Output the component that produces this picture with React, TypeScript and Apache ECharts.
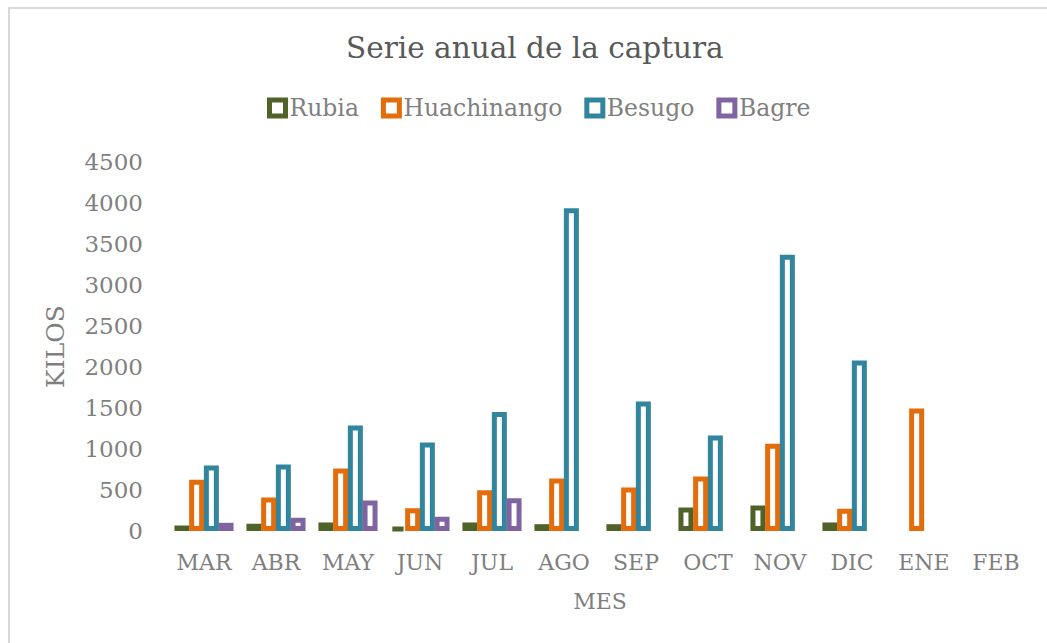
import React, { useEffect, useRef } from "react";
import * as echarts from "echarts";

const categories = ["MAR", "ABR", "MAY", "JUN", "JUL", "AGO", "SEP", "OCT", "NOV", "DIC", "ENE", "FEB"];
const rubia = [67, 88, 104, 46, 104, 83, 83, 287, 311, 104, null, null];
const huachinango = [625, 409, 763, 278, 498, 641, 531, 665, 1064, 271, 1495, null];
const besugo = [799, 811, 1287, 1080, 1450, 3935, 1580, 1165, 3370, 2080, null, null];
const bagre = [100, 161, 372, 173, 400, null, null, null, null, null, null, null];
const yTicks = [0, 500, 1000, 1500, 2000, 2500, 3000, 3500, 4000, 4500];

const seriesDefs = [
  { name: "Rubia", data: rubia, color: "#4f6228" },
  { name: "Huachinango", data: huachinango, color: "#e46c0a" },
  { name: "Besugo", data: besugo, color: "#31859c" },
  { name: "Bagre", data: bagre, color: "#8064a2" },
];

const FONT = "DejaVu Serif";

export default function App() {
  const ref = useRef<HTMLDivElement>(null);
  useEffect(() => {
    if (!ref.current) return;
    const chart = echarts.init(ref.current, null, { renderer: "svg" });
    chart.setOption({
      animation: false,
      backgroundColor: "#ffffff",
      textStyle: { fontFamily: FONT },
      graphic: [
        {
          type: "rect",
          shape: { x: 9, y: 8, width: 1200, height: 800 },
          style: { fill: "none", stroke: "#d9d9d9", lineWidth: 2 },
          silent: true,
        },
      ],
      title: {
        text: "Serie anual de la captura",
        left: 341,
        top: 28,
        textStyle: { fontFamily: FONT, fontSize: 29.5, fontWeight: "normal", color: "#595959" },
      },
      legend: {
        top: 91,
        left: 262,
        icon: "rect",
        itemWidth: 16,
        itemHeight: 16,
        itemGap: 22,
        itemStyle: { borderWidth: 5 },
        textStyle: { fontFamily: FONT, fontSize: 23.5, color: "#7f7f7f", padding: [0, 0, 0, -1] },
        data: seriesDefs.map((s) => s.name),
      },
      grid: { left: 168, right: 15, top: 162, bottom: 112 },
      xAxis: {
        type: "category",
        data: categories,
        axisLine: { show: false },
        axisTick: { show: false },
        axisLabel: { fontFamily: FONT, fontSize: 22, color: "#7f7f7f", margin: 20 },
        name: "MES",
        nameLocation: "middle",
        nameGap: 59,
        nameTextStyle: { fontFamily: FONT, fontSize: 22, color: "#7f7f7f" },
      },
      yAxis: {
        type: "value",
        min: yTicks[0],
        max: yTicks[yTicks.length - 1],
        interval: yTicks[1] - yTicks[0],
        splitLine: { show: false },
        axisLine: { show: false },
        axisTick: { show: false },
        axisLabel: {
          fontFamily: FONT,
          fontSize: 23,
          color: "#7f7f7f",
          margin: 25,
          formatter: (v: number) => String(v),
        },
        name: "KILOS",
        nameLocation: "middle",
        nameGap: 100,
        nameTextStyle: { fontFamily: FONT, fontSize: 25, color: "#7f7f7f" },
      },
      series: seriesDefs.map((s) => ({
        name: s.name,
        type: "bar",
        data: s.data,
        barWidth: 15,
        barGap: "-2%",
        itemStyle: { color: "#ffffff", borderColor: s.color, borderWidth: 5 },
      })),
    });
    return () => chart.dispose();
  }, []);
  return <div ref={ref} style={{ position: "absolute", left: 0, top: 0, width: 1047, height: 643 }} />;
}
